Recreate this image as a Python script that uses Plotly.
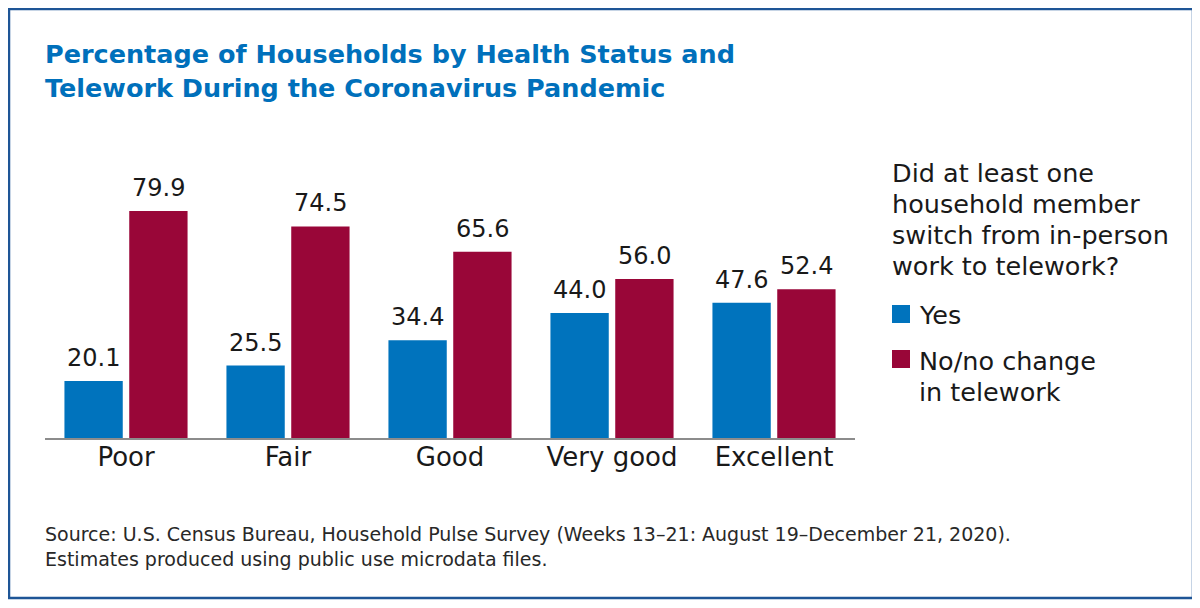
import plotly.graph_objects as go

# data
health_status = ['Poor', 'Fair', 'Good', 'Very good', 'Excellent']
telework_yes = [20.1, 25.5, 34.4, 44.0, 47.6]
telework_no = [79.9, 74.5, 65.6, 56.0, 52.4]
series_names = ['Yes', 'No/no change<br>in telework']
legend_title = 'Did at least one<br>household member<br>switch from in-person<br>work to telework?'
title_text = '<b>Percentage of Households by Health Status and<br>Telework During the Coronavirus Pandemic</b>'
source_text = ('Source: U.S. Census Bureau, Household Pulse Survey (Weeks 13–21: August 19–December 21, 2020).<br>'
               'Estimates produced using public use microdata files.')

blue = 'rgb(0, 115, 189)'
maroon = 'rgb(153, 6, 56)'
text_color = 'rgb(25, 25, 25)'
font_family = 'DejaVu Sans, sans-serif'

# plot area in figure pixels (page is drawn 8px in from the window corner)
L, T, W, H = 37, 146, 810, 284


def px_x(x):
    return (x - L) / W


def px_y(y):
    return (T + H - y) / H


def add_lines(fig, text, x, top, step, size, color, bold=False):
    # one annotation per line so the line spacing can be set
    for i, line in enumerate(text.replace('<b>', '').replace('</b>', '').split('<br>')):
        fig.add_annotation(text=f'<b>{line}</b>' if bold else line,
                           xref='paper', yref='paper',
                           x=px_x(x), y=px_y(top + step * i),
                           xanchor='left', yanchor='top',
                           align='left', showarrow=False,
                           font=dict(size=size, color=color))


fig = go.Figure()

for vals, color in zip([telework_yes, telework_no], [blue, maroon]):
    fig.add_trace(go.Bar(x=health_status,
                         y=vals,
                         marker=dict(color=color, line=dict(width=0)),
                         showlegend=False,
                         hovertemplate='%{x}<br>%{y:.1f}<extra></extra>'))

# value labels above the bars
for shift, vals in zip([-32.4, 32.4], [telework_yes, telework_no]):
    for cat, v in zip(health_status, vals):
        fig.add_annotation(x=cat, y=v, text=f'{v:.1f}',
                           xref='x', yref='y',
                           xanchor='center', yanchor='bottom',
                           xshift=shift, yshift=7,
                           showarrow=False,
                           font=dict(size=24, color=text_color))

fig.update_layout(width=1200,
                  height=608,
                  autosize=False,
                  margin={"l": L, "r": 1200 - L - W, "t": T, "b": 608 - T - H},
                  plot_bgcolor='white',
                  paper_bgcolor='white',
                  font=dict(family=font_family, color=text_color),
                  barmode='group',
                  bargap=0.2,
                  bargroupgap=0.1,
                  showlegend=False,
                  xaxis=dict(showline=True,
                             linecolor='rgb(140, 140, 140)',
                             linewidth=1.5,
                             showgrid=False,
                             ticks='',
                             ticklabelstandoff=-5,
                             tickfont=dict(size=26, color=text_color)),
                  yaxis=dict(range=[0, 100],
                             visible=False,
                             showgrid=False))

# title
add_lines(fig, title_text, 35, 29, 34, 25.5, 'rgb(0, 112, 187)', bold=True)

# legend drawn by hand so the swatches line up with the text
add_lines(fig, legend_title, 882, 147.5, 31, 25.5, text_color)

for name, color, cy, top in zip(series_names, [blue, maroon], [306, 351], [289.5, 336]):
    fig.add_shape(type='rect', xref='paper', yref='paper',
                  x0=px_x(884), x1=px_x(902),
                  y0=px_y(cy - 9), y1=px_y(cy + 9),
                  fillcolor=color, line=dict(width=0))
    add_lines(fig, name, 909, top, 31, 25.5, text_color)

# source note
fig.add_annotation(text=source_text,
                   xref='paper', yref='paper',
                   x=px_x(35), y=px_y(513),
                   xanchor='left', yanchor='top',
                   align='left', showarrow=False,
                   font=dict(size=19, color='rgb(40, 40, 40)'))

# frame around the graphic
fig.add_shape(type='rect',
              xref='paper', yref='paper',
              x0=px_x(1), x1=px_x(1185),
              y0=px_y(590), y1=px_y(1),
              line=dict(color='rgb(30, 85, 150)', width=2.5))

fig.write_html("out.html")
